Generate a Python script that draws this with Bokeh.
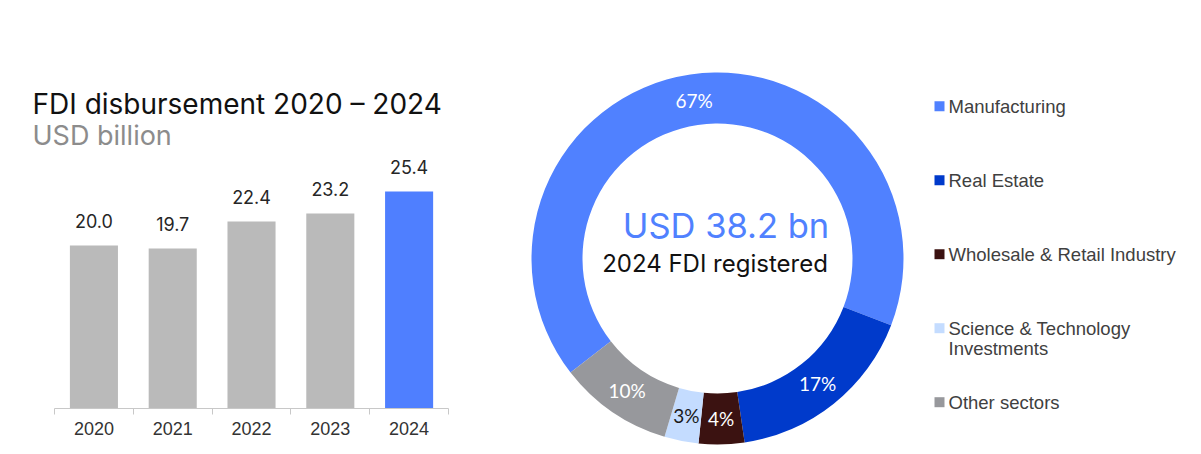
import numpy as np
from bokeh.plotting import figure
from bokeh.layouts import row
from bokeh.models import Range1d, FixedTicker, Label
from bokeh.core.properties import value
from bokeh.embed import file_html
from bokeh.resources import INLINE

# ---------------- data ----------------
years = ["2020", "2021", "2022", "2023", "2024"]
disbursement = [20.0, 19.7, 22.4, 23.2, 25.4]          # USD billion

sectors = ["Manufacturing", "Real Estate", "Wholesale & Retail Industry",
           "Science & Technology\nInvestments", "Other sectors"]
sector_share = [67, 17, 4, 3, 10]                        # % of 2024 FDI registered
total_registered = 38.2                                  # USD bn

# ---------------- styles ----------------
bar_colors = ["#bababa", "#bababa", "#bababa", "#bababa", "#4f7fff"]
sector_colors = ["#5081ff", "#003acb", "#3b1211", "#c4dcff", "#97989c"]
pct_colors = ["white", "white", "white", "#1a1a1a", "white"]
GEO = value("Inter")
ARIAL = value("Liberation Sans")

# ---------------- bar chart ----------------
n = len(years)
xpos = [i + 0.5 for i in range(n)]
X0 = -0.305   # extra room on the left of the first category for the title
p1 = figure(width=478, height=450, x_range=Range1d(X0, n), y_range=Range1d(3.7, 36.5),
            output_backend="svg", toolbar_location=None, y_axis_location=None,
            min_border_left=30, min_border_right=30, min_border_top=80, min_border_bottom=42,
            outline_line_color=None, background_fill_color="white", border_fill_color="white",
            frame_align=False)
p1.grid.visible = False
p1.vbar(x=xpos, top=disbursement, width=0.61, color=bar_colors, line_color=None)
p1.text(x=xpos, y=disbursement, text=[f"{v:.1f}" for v in disbursement],
        text_align="center", text_baseline="middle", y_offset=-25,
        text_font=GEO, text_font_size="18px", text_color="#262626")
ax = p1.xaxis[0]
ax.bounds = (0, n)
ax.ticker = FixedTicker(ticks=xpos, minor_ticks=list(range(n + 1)))
ax.major_label_overrides = {x: y for x, y in zip(xpos, years)}
ax.major_tick_line_color = None
ax.major_tick_out = 0
ax.major_tick_in = 0
ax.minor_tick_in = 0
ax.minor_tick_out = 6
ax.minor_tick_line_color = "#c8c8c8"
ax.axis_line_color = "#c8c8c8"
ax.major_label_standoff = 7
ax.major_label_text_font = "Liberation Sans"
ax.major_label_text_font_size = "18px"
ax.major_label_text_color = "#333333"

p1.add_layout(Label(x=X0, y=34.2, x_offset=2, text="FDI disbursement 2020 \u2013 2024",
                    text_font="Inter", text_font_size="28px", text_color="#111111",
                    text_baseline="alphabetic"))
p1.add_layout(Label(x=X0, y=31.0, x_offset=2, text="USD billion",
                    text_font="Inter", text_font_size="27px", text_color="#8c8c8c",
                    text_baseline="alphabetic"))

# ---------------- donut ----------------
p2 = figure(width=723, height=450, x_range=Range1d(-239, 484), y_range=Range1d(-192, 258),
            output_backend="svg", toolbar_location=None,
            x_axis_location=None, y_axis_location=None,
            min_border=0, outline_line_color=None,
            background_fill_color="white", border_fill_color="white",
            frame_align=False)
p2.grid.visible = False

shares = np.array(sector_share, dtype=float)
frac = shares / shares.sum()
START = 232.2  # degrees clockwise from 12 o'clock where the first slice starts
c0 = START + 360 * np.concatenate([[0.0], np.cumsum(frac)[:-1]])
c1 = c0 + 360 * frac
p2.annular_wedge(x=0, y=0, inner_radius=135, outer_radius=186,
                 start_angle=np.radians(90 - c1), end_angle=np.radians(90 - c0),
                 color=sector_colors, line_color=None)
mid = np.radians((c0 + c1) / 2)
R_LAB = 160
p2.text(x=R_LAB * np.sin(mid), y=R_LAB * np.cos(mid), text=[f"{s}%" for s in sector_share],
        text_align="center", text_baseline="middle", text_font=value("Lato"),
        text_font_size="19px", text_color=pct_colors)

p2.text(x=[8.5], y=[33], text=[f"USD {total_registered} bn"], text_align="center",
        text_baseline="middle", text_font=GEO, text_font_size="34.5px", text_color="#5081ff")
p2.text(x=[-2.5], y=[-5], text=["2024 FDI registered"], text_align="center",
        text_baseline="middle", text_font=GEO, text_font_size="24px", text_color="#111111")

# legend
LEG_X, LEG_TOP, LEG_STEP, LINE_H = 222, 152.3, 74.0, 20
leg_y = [LEG_TOP - LEG_STEP * i for i in range(len(sectors))]
p2.scatter(x=[LEG_X] * len(sectors), y=leg_y, marker="square", size=10,
           color=sector_colors, line_color=None)
tx, ty, tt = [], [], []
for name, y in zip(sectors, leg_y):
    for j, line in enumerate(name.split("\n")):
        tx.append(LEG_X + 9)
        ty.append(y - j * LINE_H)
        tt.append(line)
p2.text(x=tx, y=ty, text=tt, text_align="left", text_baseline="middle",
        text_font=ARIAL, text_font_size="18.5px", text_color="#404040")

layout = row(p1, p2)
open("out.html", "w").write(file_html(layout, INLINE))
